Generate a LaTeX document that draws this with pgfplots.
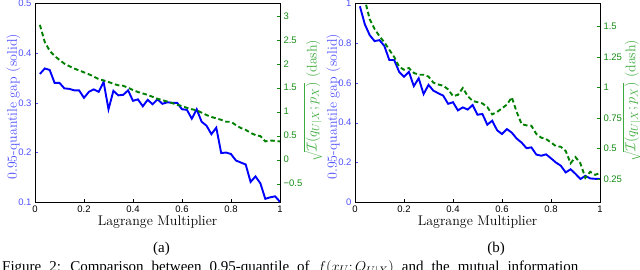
\documentclass[border=0pt]{standalone}
\usepackage{pgfplots}
\pgfplotsset{compat=1.18}
\usepackage{fontspec}
\newfontfamily\tickfont{Liberation Sans}
\newfontfamily\capfont{Liberation Serif}
\definecolor{tickblue}{RGB}{80,80,255}
\definecolor{lineblue}{RGB}{0,0,255}
\definecolor{linegreen}{RGB}{0,128,0}
\definecolor{tickgreen}{RGB}{20,140,20}
\definecolor{labgreen}{RGB}{60,170,60}

\pgfplotstableread{
x y
0.02 0.358
0.04 0.369
0.06 0.366
0.08 0.340
0.10 0.340
0.12 0.329
0.14 0.328
0.16 0.325
0.18 0.325
0.20 0.310
0.22 0.322
0.24 0.327
0.26 0.322
0.28 0.342
0.30 0.287
0.32 0.324
0.34 0.315
0.36 0.316
0.38 0.325
0.40 0.304
0.42 0.307
0.44 0.293
0.46 0.306
0.48 0.297
0.50 0.307
0.52 0.298
0.54 0.301
0.56 0.300
0.58 0.300
0.60 0.287
0.62 0.286
0.64 0.268
0.66 0.287
0.68 0.262
0.70 0.254
0.72 0.237
0.74 0.250
0.76 0.199
0.78 0.200
0.80 0.197
0.82 0.184
0.84 0.180
0.86 0.176
0.88 0.141
0.90 0.152
0.92 0.138
0.94 0.107
0.96 0.110
0.98 0.112
1.00 0.101
}\blueA

\pgfplotstableread{
x y
0.02 2.81
0.04 2.45
0.06 2.27
0.08 2.16
0.10 2.08
0.12 2.00
0.14 1.95
0.16 1.90
0.18 1.86
0.20 1.82
0.22 1.78
0.24 1.73
0.26 1.68
0.28 1.65
0.30 1.62
0.32 1.58
0.34 1.55
0.36 1.54
0.38 1.50
0.40 1.45
0.42 1.41
0.44 1.38
0.46 1.35
0.48 1.31
0.50 1.27
0.52 1.24
0.54 1.21
0.56 1.18
0.58 1.14
0.60 1.12
0.62 1.08
0.64 1.05
0.66 1.03
0.68 0.98
0.70 0.93
0.72 0.89
0.74 0.86
0.76 0.83
0.78 0.79
0.80 0.79
0.82 0.72
0.84 0.66
0.86 0.62
0.88 0.56
0.90 0.51
0.92 0.49
0.94 0.38
0.96 0.40
0.98 0.39
1.00 0.38
}\greenA

\pgfplotstableread{
x y
0.02 0.985
0.04 0.895
0.06 0.840
0.08 0.810
0.10 0.815
0.12 0.785
0.14 0.715
0.16 0.715
0.18 0.656
0.20 0.631
0.22 0.656
0.24 0.584
0.26 0.623
0.28 0.544
0.30 0.590
0.32 0.561
0.34 0.548
0.36 0.536
0.38 0.495
0.40 0.503
0.42 0.462
0.44 0.477
0.46 0.466
0.48 0.489
0.50 0.440
0.52 0.444
0.54 0.390
0.56 0.410
0.58 0.362
0.60 0.343
0.62 0.368
0.64 0.350
0.66 0.320
0.68 0.300
0.70 0.272
0.72 0.276
0.74 0.240
0.76 0.234
0.78 0.241
0.80 0.221
0.82 0.200
0.84 0.184
0.86 0.150
0.88 0.166
0.90 0.143
0.92 0.117
0.94 0.133
0.96 0.120
0.98 0.118
1.00 0.117
}\blueB

\pgfplotstableread{
x y
0.02 1.85
0.04 1.72
0.06 1.56
0.08 1.48
0.10 1.42
0.12 1.37
0.14 1.31
0.16 1.25
0.18 1.17
0.20 1.146
0.22 1.16
0.24 1.12
0.26 1.105
0.28 1.105
0.30 1.09
0.32 1.04
0.34 1.025
0.36 1.015
0.38 0.985
0.40 0.93
0.42 0.94
0.44 0.996
0.46 0.93
0.48 0.89
0.50 0.88
0.52 0.87
0.54 0.84
0.56 0.78
0.58 0.80
0.60 0.83
0.62 0.86
0.64 0.92
0.66 0.80
0.68 0.70
0.70 0.69
0.72 0.687
0.74 0.62
0.76 0.59
0.78 0.578
0.80 0.55
0.82 0.52
0.84 0.515
0.86 0.48
0.88 0.38
0.90 0.43
0.92 0.38
0.94 0.26
0.96 0.31
0.98 0.285
1.00 0.30
}\greenB

\pgfplotsset{
  mystyle/.style={
    scale only axis, width=245pt, height=199pt,
    xmin=0, xmax=1,
    tick align=inside, major tick length=3pt,
    ticklabel style={font=\tickfont\fontsize{9.5}{10}\selectfont},
    label style={font=\fontsize{14}{16}\selectfont},
    axis line style={black, line width=0.5pt},
  },
  leftstyle/.style={
    mystyle,
    xtick={0,0.2,0.4,0.6,0.8,1},
    xticklabels={0,0.2,0.4,0.6,0.8,1},
    xtick pos=bottom, ytick pos=left,
    y tick label style={text=tickblue},
    ytick style={tickblue},
    xtick style={black},
    xlabel={Lagrange Multiplier},
    xlabel style={at={(axis description cs:0.5,-0.099)}, anchor=center},
    ylabel={0.95-quantile gap (solid)},
    ylabel style={text=tickblue, at={(axis description cs:-0.088,0.48)}, anchor=center},
  },
  rightstyle/.style={
    mystyle,
    axis y line*=right, axis x line=none,
    y tick label style={text=tickgreen},
    ytick style={tickgreen},
    ylabel={$\sqrt{\mathcal{I}(q_{U|X};p_X)}$ (dash)},
  },
}

\begin{document}
\begin{tikzpicture}
\useasboundingbox (0pt,0pt) rectangle (640pt,269pt);

% ---- panel (a)
\begin{axis}[leftstyle, at={(35pt,66.7pt)}, anchor=south west,
  ymin=0.1, ymax=0.5,
  ytick={0.1,0.2,0.3,0.4,0.5}, yticklabels={0.1,0.2,0.3,0.4,0.5}]
\addplot[lineblue, line width=1.9pt] table {\blueA};
\end{axis}
\begin{axis}[rightstyle, at={(35pt,66.7pt)}, anchor=south west,
  ymin=-0.89, ymax=3.26,
  ytick={-0.5,0,0.5,1,1.5,2,2.5,3},
  yticklabels={−0.5,0,0.5,1,1.5,2,2.5,3},
  ylabel style={text=labgreen, at={(axis description cs:1.135,0.51)}, anchor=center}]
\addplot[linegreen, line width=1.9pt, dash pattern=on 4.5pt off 2.8pt] table {\greenA};
\end{axis}

% ---- panel (b)
\begin{axis}[leftstyle, at={(355pt,66.7pt)}, anchor=south west,
  ymin=0, ymax=1,
  ytick={0,0.2,0.4,0.6,0.8,1}, yticklabels={0,0.2,0.4,0.6,0.8,1}]
\addplot[lineblue, line width=1.9pt] table {\blueB};
\end{axis}
\begin{axis}[rightstyle, at={(355pt,66.7pt)}, anchor=south west,
  ymin=0.06, ymax=1.69,
  ytick={0.25,0.5,0.75,1,1.25,1.5},
  yticklabels={0.25,0.5,0.75,1,1.25,1.5},
  ylabel style={text=labgreen, at={(axis description cs:1.13,0.51)}, anchor=center}]
\addplot[linegreen, line width=1.9pt, dash pattern=on 4.5pt off 2.8pt] table {\greenB};
\end{axis}

\node[font=\capfont\fontsize{15}{17}\selectfont] at (161.5pt,20pt) {(a)};
\node[font=\capfont\fontsize{15}{17}\selectfont] at (496pt,20pt) {(b)};
\node[anchor=base west, inner sep=0pt, font=\capfont\fontsize{15}{17}\selectfont] at (2pt,-2pt)
  {\spaceskip=8pt plus 1pt Figure 2: Comparison between 0.95-quantile of $f(x_U; Q_{U|X})$ and the mutual information};
\end{tikzpicture}
\end{document}
